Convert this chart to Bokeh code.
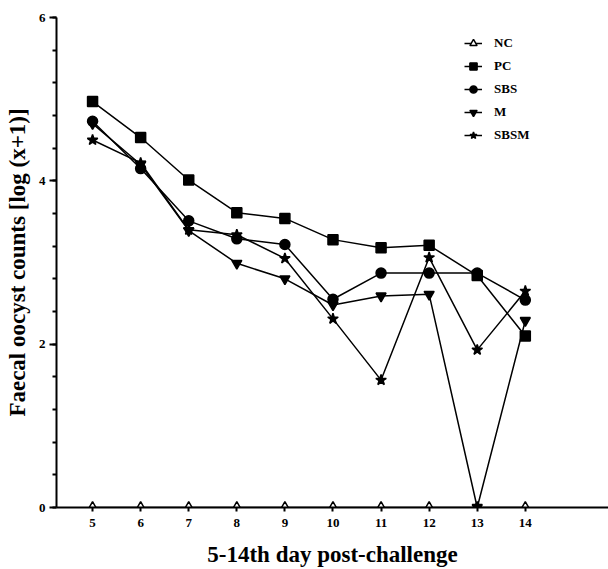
from bokeh.plotting import figure
from bokeh.models import Range1d, FixedTicker, SingleIntervalTicker, Legend, LegendItem
from bokeh.embed import file_html
from bokeh.resources import INLINE

days = [5, 6, 7, 8, 9, 10, 11, 12, 13, 14]
nc = [0, 0, 0, 0, 0, 0, 0, 0, 0, 0]
pc = [4.97, 4.53, 4.01, 3.61, 3.54, 3.28, 3.18, 3.21, 2.84, 2.10]
sbs = [4.73, 4.15, 3.51, 3.29, 3.22, 2.55, 2.87, 2.87, 2.87, 2.54]
m = [4.70, 4.20, 3.39, 2.99, 2.80, 2.48, 2.59, 2.61, 0.0, 2.29]
sbsm = [4.50, 4.22, 3.40, 3.34, 3.05, 2.31, 1.56, 3.06, 1.93, 2.65]

FONT = "Liberation Serif"

p = figure(width=608, height=569, output_backend="svg", toolbar_location=None,
           x_range=Range1d(4.25, 15.73), y_range=Range1d(0, 6),
           min_border_left=56, min_border_right=0, min_border_top=17, min_border_bottom=61)
p.outline_line_color = None
p.grid.grid_line_color = None
p.background_fill_color = "white"

# axes
p.xaxis.ticker = FixedTicker(ticks=days)
p.yaxis.ticker = SingleIntervalTicker(interval=2, num_minor_ticks=5)
for ax in (p.xaxis[0], p.yaxis[0]):
    ax.axis_line_width = 2
    ax.axis_line_color = "black"
    ax.major_tick_line_width = 2
    ax.minor_tick_line_width = 2
    ax.major_tick_in = 0
    ax.minor_tick_in = 0
    ax.major_label_text_font = FONT
    ax.major_label_text_font_style = "bold"
    ax.major_label_text_font_size = "13px"
    ax.major_label_text_color = "black"
    ax.axis_label_text_font = FONT
    ax.axis_label_text_font_style = "bold"
    ax.axis_label_text_font_size = "23px"
    ax.axis_label_text_color = "black"
p.yaxis.major_tick_out = 7
p.yaxis.minor_tick_out = 4
p.xaxis.major_tick_out = 4
p.xaxis.minor_tick_line_color = None
p.xaxis.major_label_standoff = 7
p.yaxis.major_label_standoff = 4
p.xaxis.axis_label = "5-14th day post-challenge"
p.yaxis.axis_label = "Faecal oocyst counts [log (x+1)]"
p.xaxis.axis_label_standoff = 12
p.yaxis.axis_label_standoff = 6

series = [
    ("NC", nc, "triangle", 10, "white"),
    ("PC", pc, "square", 10, "black"),
    ("SBS", sbs, "circle", 10, "black"),
    ("M", m, "inverted_triangle", 10, "black"),
    ("SBSM", sbsm, "star", 11, "black"),
]

items = []
for name, ys, marker, size, fill in series:
    l = p.line(days, ys, line_color="black", line_width=1.5)
    s = p.scatter(days, ys, marker=marker, size=size, fill_color=fill,
                  line_color="black", line_width=1.5)
    items.append(LegendItem(label=name, renderers=[l, s]))

legend = Legend(items=items, location=(408, 362), orientation="vertical",
                label_text_font=FONT, label_text_font_style="bold",
                label_text_font_size="13px", label_text_color="black",
                glyph_width=18, glyph_height=20, label_height=20, spacing=3,
                padding=0, margin=0, label_standoff=12,
                border_line_color=None, background_fill_alpha=0)
p.add_layout(legend)

open("out.html", "w").write(file_html(p, INLINE))
